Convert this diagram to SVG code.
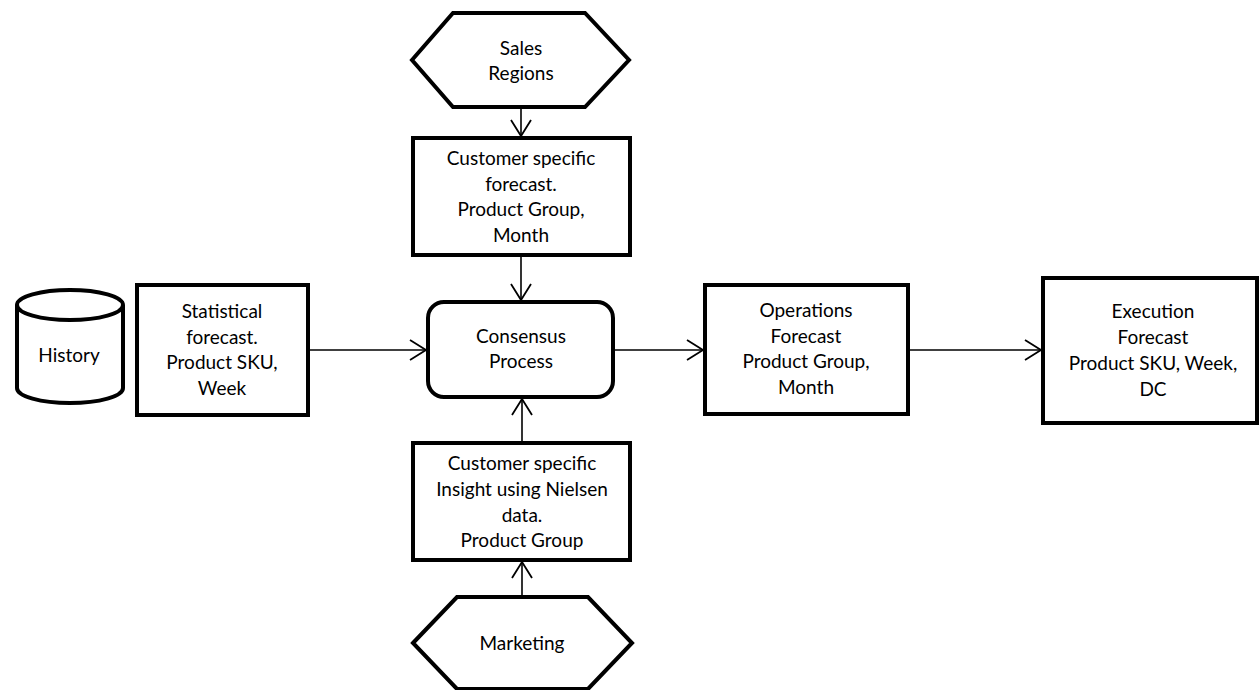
<svg xmlns="http://www.w3.org/2000/svg" width="1260" height="690" viewBox="0 0 1260 690">
<defs>
<style>
.n{fill:#fff;stroke:#000;stroke-width:4;stroke-linejoin:miter}
.t{font-family:Lato,"Open Sans","Liberation Sans",sans-serif;font-size:19px;fill:#000;text-anchor:middle}
.c{fill:none;stroke:#000;stroke-width:1.6}
.h{fill:none;stroke:#000;stroke-width:1.8;stroke-linejoin:miter}
</style>
<marker id="ah" markerUnits="userSpaceOnUse" markerWidth="24" markerHeight="24" viewBox="-20 -12 24 24" refX="0" refY="0" orient="auto">
<path d="M-16,-10 L0,0 L-16,10" class="h"/>
</marker>
</defs>
<rect width="1260" height="690" fill="#fff"/>
<g id="connectors">
<line class="c" x1="521" y1="107" x2="521" y2="136" marker-end="url(#ah)"/>
<line class="c" x1="521" y1="255" x2="521" y2="300" marker-end="url(#ah)"/>
<line class="c" x1="308" y1="350" x2="426" y2="350" marker-end="url(#ah)"/>
<line class="c" x1="613" y1="350" x2="703" y2="350" marker-end="url(#ah)"/>
<line class="c" x1="908" y1="350" x2="1041" y2="350" marker-end="url(#ah)"/>
<line class="c" x1="522" y1="443" x2="522" y2="399" marker-end="url(#ah)"/>
<line class="c" x1="522" y1="597" x2="522" y2="562" marker-end="url(#ah)"/>
</g>
<g id="sales-regions">
<polygon class="n" points="412,60 453,13 585,13 629,60 585,107 453,107"/>
<text class="t" x="521" y="55">Sales</text>
<text class="t" x="521" y="80">Regions</text>
</g>
<g id="customer-forecast">
<rect class="n" x="413" y="138" width="217" height="117"/>
<text class="t" x="521" y="165">Customer specific</text>
<text class="t" x="521" y="191">forecast.</text>
<text class="t" x="521" y="216">Product Group,</text>
<text class="t" x="521" y="242">Month</text>
</g>
<g id="history">
<path class="n" d="M17,305 L17,388 A53,15 0 0 0 123,388 L123,305"/>
<ellipse class="n" cx="70" cy="305" rx="53" ry="15"/>
<text class="t" x="69" y="362">History</text>
</g>
<g id="statistical-forecast">
<rect class="n" x="137" y="285" width="171" height="130"/>
<text class="t" x="222" y="318">Statistical</text>
<text class="t" x="222" y="344">forecast.</text>
<text class="t" x="222" y="369">Product SKU,</text>
<text class="t" x="222" y="395">Week</text>
</g>
<g id="consensus">
<rect class="n" x="428" y="302" width="185" height="95" rx="16" ry="16"/>
<text class="t" x="521" y="343">Consensus</text>
<text class="t" x="521" y="368">Process</text>
</g>
<g id="operations-forecast">
<rect class="n" x="705" y="285" width="203" height="129"/>
<text class="t" x="806" y="317">Operations</text>
<text class="t" x="806" y="343">Forecast</text>
<text class="t" x="806" y="368">Product Group,</text>
<text class="t" x="806" y="394">Month</text>
</g>
<g id="execution-forecast">
<rect class="n" x="1043" y="278" width="214" height="145"/>
<text class="t" x="1153" y="318">Execution</text>
<text class="t" x="1153" y="344">Forecast</text>
<text class="t" x="1153" y="370">Product SKU, Week,</text>
<text class="t" x="1153" y="396">DC</text>
</g>
<g id="customer-insight">
<rect class="n" x="413" y="443" width="217" height="117"/>
<text class="t" x="522" y="470">Customer specific</text>
<text class="t" x="522" y="496">Insight using Nielsen</text>
<text class="t" x="522" y="522">data.</text>
<text class="t" x="522" y="547">Product Group</text>
</g>
<g id="marketing">
<polygon class="n" points="413,643 457,597 588,597 632,643 588,689 457,689"/>
<text class="t" x="522" y="650">Marketing</text>
</g>
</svg>
